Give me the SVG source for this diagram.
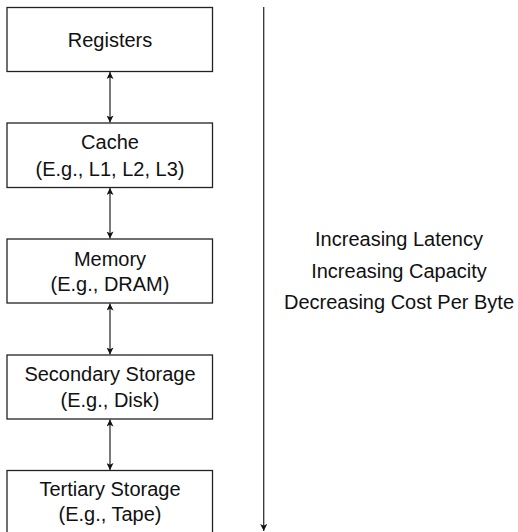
<svg xmlns="http://www.w3.org/2000/svg" width="518" height="532" viewBox="0 0 518 532">
<style>
.box{fill:#fff;stroke:#222;stroke-width:1.3}
.t{font-family:"Liberation Sans",Arial,sans-serif;font-size:20px;fill:#111;text-anchor:middle}
.c{stroke:#333;stroke-width:1.3;fill:none}
</style>
<defs>
<marker id="ah" viewBox="0 0 10 10" refX="10" refY="5" markerUnits="userSpaceOnUse" markerWidth="10" markerHeight="7" orient="auto-start-reverse">
<path d="M0,0 L10,5 L0,10 L2.5,5 z" fill="#111"/>
</marker>
</defs>
<rect width="518" height="532" fill="#fff"/>
<g id="registers">
<rect class="box" x="7" y="7.5" width="205.5" height="64"/>
<text class="t" x="110" y="46.5">Registers</text>
</g>
<g id="cache">
<rect class="box" x="7" y="123" width="205.5" height="64.5"/>
<text class="t" x="110" y="149">Cache</text>
<text class="t" x="110" y="175.5">(E.g., L1, L2, L3)</text>
</g>
<g id="memory">
<rect class="box" x="7" y="239" width="205.5" height="64"/>
<text class="t" x="110" y="265.5">Memory</text>
<text class="t" x="110" y="291">(E.g., DRAM)</text>
</g>
<g id="secondary">
<rect class="box" x="7" y="355" width="205.5" height="64"/>
<text class="t" x="110" y="381">Secondary Storage</text>
<text class="t" x="110" y="406.5">(E.g., Disk)</text>
</g>
<g id="tertiary">
<rect class="box" x="7" y="470.5" width="205.5" height="70"/>
<text class="t" x="110" y="495.5">Tertiary Storage</text>
<text class="t" x="110" y="521">(E.g., Tape)</text>
</g>
<g id="connectors">
<line class="c" x1="110" y1="72" x2="110" y2="122.5" marker-start="url(#ah)" marker-end="url(#ah)"/>
<line class="c" x1="110" y1="188" x2="110" y2="238.5" marker-start="url(#ah)" marker-end="url(#ah)"/>
<line class="c" x1="110" y1="303.5" x2="110" y2="354.5" marker-start="url(#ah)" marker-end="url(#ah)"/>
<line class="c" x1="110" y1="419.5" x2="110" y2="470" marker-start="url(#ah)" marker-end="url(#ah)"/>
<line class="c" x1="263.7" y1="7" x2="263.7" y2="531" marker-end="url(#ah)"/>
</g>
<g id="label">
<text class="t" x="399" y="246">Increasing Latency</text>
<text class="t" x="399" y="277.5">Increasing Capacity</text>
<text class="t" x="399" y="309">Decreasing Cost Per Byte</text>
</g>
</svg>
